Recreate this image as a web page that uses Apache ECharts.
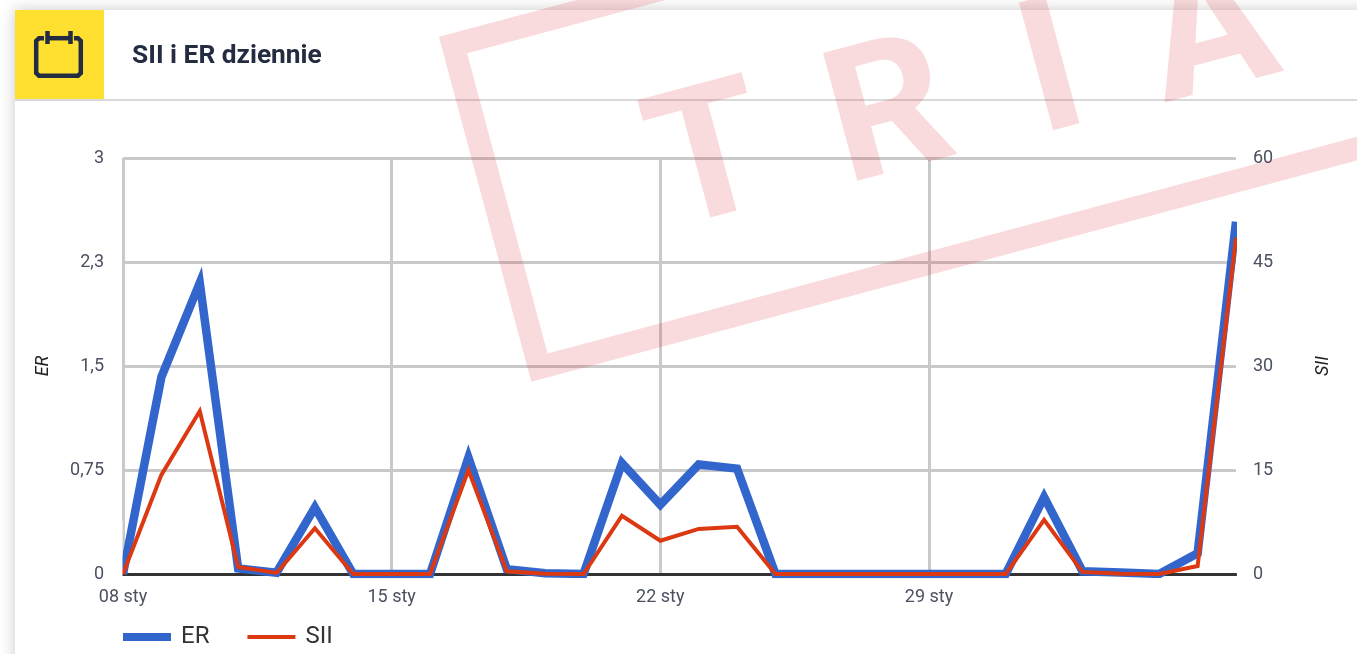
<!DOCTYPE html>
<html><head><meta charset="utf-8">
<style>html,body{margin:0;padding:0;background:#fff;overflow:hidden}#c{width:1357px;height:654px}</style>
<script src="https://cdn.jsdelivr.net/npm/echarts@6/dist/echarts.min.js"></script>
</head><body><div id="c"></div>
<script>
const titleText = 'SII i ER dziennie';
const categories = ['08 sty','09 sty','10 sty','11 sty','12 sty','13 sty','14 sty','15 sty','16 sty','17 sty','18 sty','19 sty','20 sty','21 sty','22 sty','23 sty','24 sty','25 sty','26 sty','27 sty','28 sty','29 sty','30 sty','31 sty','01 lut','02 lut','03 lut','04 lut','05 lut','06 lut'];
const erValues  = [0,1.42,2.10,0.04,0.01,0.48,0,0,0,0.84,0.035,0.005,0,0.80,0.50,0.79,0.76,0,0,0,0,0,0,0,0.555,0.02,0.01,0,0.15,2.54];
const siiValues = [0,14.3,23.5,1,0.15,6.6,0,0,0,15,0.4,0.05,0,8.4,4.8,6.5,6.8,0,0,0,0,0,0,0,7.8,0.3,0.05,0,1.15,48.5];
const erTicks = {0:'0',0.75:'0,75',1.5:'1,5',2.25:'2,3',3:'3'};
const watermarkLetters = ['T','R','I','A'];

const INK = '#232c40', LABEL = '#4b5160', GRID = '#c9c9c9';
const rot = 15*Math.PI/180;
const wmFill = 'rgba(224,40,52,0.17)';
const letterPos = [[632,94],[810,49],[1004,-1],[1128,-32]];
const shown = (i)=>i%7===0&&i<28;

const chart = echarts.init(document.getElementById('c'));
chart.setOption({
  animation:false,
  backgroundColor:'#fff',
  title:{text:titleText,left:132,top:43,padding:0,textStyle:{fontFamily:'Roboto',fontSize:26.3,fontWeight:700,color:INK}},
  grid:{left:123,right:121,top:158,bottom:80,containLabel:false},
  legend:{left:123,top:625,padding:0,itemWidth:48,itemHeight:16,itemGap:38,
    itemStyle:{borderWidth:0},lineStyle:{width:0},
    data:[{name:'ER',icon:'path://M0 0h0M0 4h48v8h-48zM0 16h0'},{name:'SII',icon:'path://M0 0h0M0 6h48v4h-48zM0 16h0'}],
    textStyle:{fontFamily:'Roboto',fontSize:24,color:'#333',padding:[0,0,0,5]}},
  xAxis:{type:'category',data:categories,boundaryGap:false,
    axisLine:{show:true,lineStyle:{color:'#333',width:3}},axisTick:{show:false},
    axisLabel:{interval:shown,margin:14,fontFamily:'Roboto',fontSize:18,color:LABEL},
    splitLine:{show:true,interval:shown,lineStyle:{color:GRID,width:3}}},
  yAxis:[
    {type:'value',min:0,max:3,interval:0.75,name:'ER',nameLocation:'middle',nameGap:71,nameRotate:90,
     nameTextStyle:{fontFamily:'Roboto',fontSize:18,fontStyle:'italic',color:'#222'},
     axisLine:{show:false},axisTick:{show:false},
     axisLabel:{margin:19,padding:[5,0,0,0],fontFamily:'Roboto',fontSize:18,color:LABEL,formatter:v=>erTicks[v]},
     splitLine:{show:true,lineStyle:{color:GRID,width:3}}},
    {type:'value',min:0,max:60,interval:15,name:'SII',nameLocation:'middle',nameGap:78,nameRotate:90,
     nameTextStyle:{fontFamily:'Roboto',fontSize:18,fontStyle:'italic',color:'#222'},
     axisLine:{show:false},axisTick:{show:false},
     axisLabel:{margin:17,padding:[5,0,0,0],fontFamily:'Roboto',fontSize:18,color:LABEL},
     splitLine:{show:false}}
  ],
  series:[
    {type:'line',name:'ER',data:erValues,yAxisIndex:0,symbol:'none',z:3,clip:true,
     lineStyle:{color:'#3366cc',width:8.5,join:'miter',miterLimit:10,cap:'butt'},itemStyle:{color:'#3366cc'}},
    {type:'line',name:'SII',data:siiValues,yAxisIndex:1,symbol:'none',z:4,clip:true,
     lineStyle:{color:'#dc3912',width:4,join:'miter',miterLimit:10,cap:'butt'},itemStyle:{color:'#dc3912'}}
  ],
  graphic:{elements:[
    {type:'rect',z:-10,shape:{x:15,y:10,width:1500,height:800},style:{fill:'#fff',shadowBlur:14,shadowColor:'rgba(0,0,0,0.22)'},silent:true},
    {type:'rect',z:-9,shape:{x:15,y:10,width:89,height:89},style:{fill:'#ffe030'},silent:true},
    {type:'rect',z:-9,shape:{x:15,y:99,width:1342,height:2},style:{fill:'#d9d9d9'},silent:true},
    {type:'polyline',z:-8,shape:{points:[[44,38.2],[39,38.2],[36.2,41],[36.2,73],[39,75.7],[78,75.7],[80.8,73],[80.8,41],[78,38.2],[74,38.2]]},
      style:{fill:null,stroke:INK,lineWidth:4.5},silent:true},
    {type:'line',z:-8,shape:{x1:47.5,y1:31,x2:47.5,y2:44},style:{stroke:INK,lineWidth:4.5},silent:true},
    {type:'line',z:-8,shape:{x1:70.5,y1:31,x2:70.5,y2:44},style:{stroke:INK,lineWidth:4.5},silent:true},
    {type:'line',z:-8,shape:{x1:48,y1:38.2,x2:70,y2:38.2},style:{stroke:INK,lineWidth:4.5},silent:true},
    {type:'rect',z:50,shape:{x:1237,y:150,width:12,height:430},style:{fill:'#fff'},silent:true},
    {type:'rect',z:50,shape:{x:108,y:520,width:14.5,height:60},style:{fill:'#fff'},silent:true},
    {type:'rect',z:100,x:453,y:45,rotation:rot,originX:0,originY:0,shape:{x:0,y:0,width:1500,height:334},
      style:{fill:null,stroke:wmFill,lineWidth:23},silent:true},
    ...watermarkLetters.map((t,i)=>({type:'text',z:100,x:letterPos[i][0],y:letterPos[i][1],rotation:rot,silent:true,
      style:{text:t,fill:wmFill,fontFamily:'Roboto',fontSize:186,fontWeight:700,textAlign:'left',textVerticalAlign:'top'}}))
  ]}
});
</script></body></html>
